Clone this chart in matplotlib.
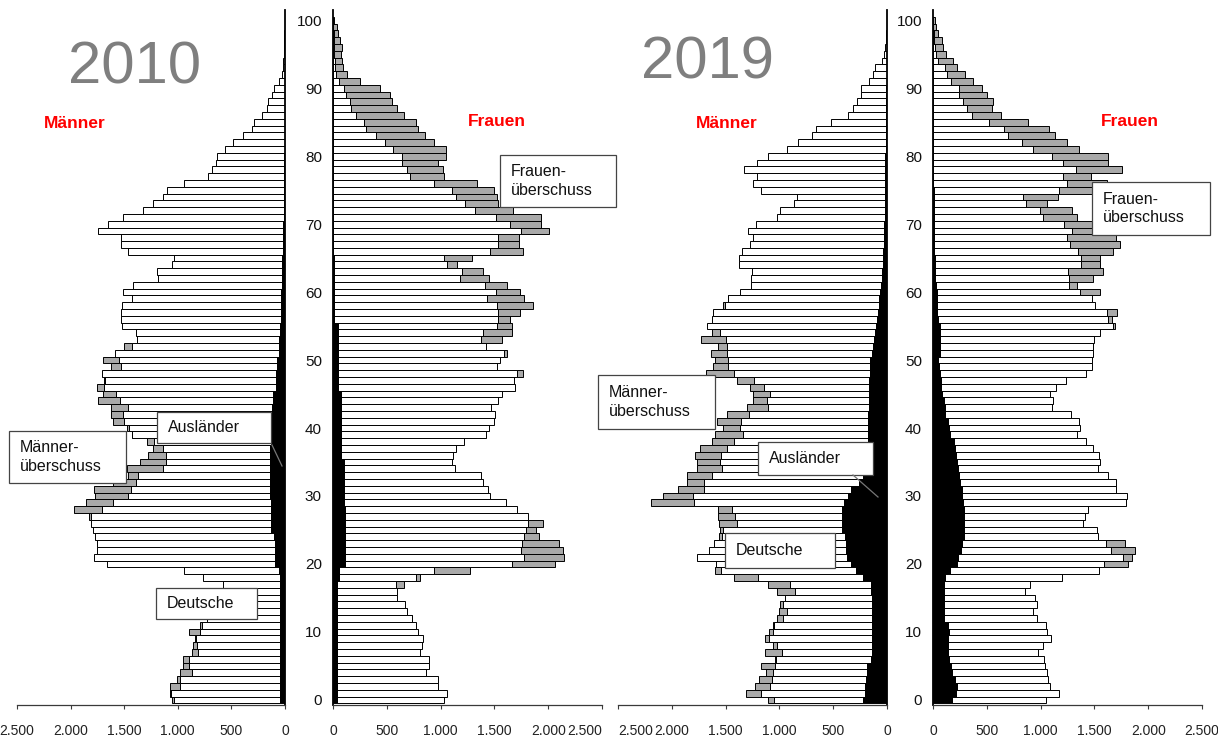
import numpy as np
import matplotlib
matplotlib.use("Agg")
import matplotlib.pyplot as plt
from matplotlib.patches import Rectangle
from matplotlib.lines import Line2D

plt.rcParams['font.family'] = ['Liberation Sans', 'DejaVu Sans']

ages = np.arange(0, 101)

# population by single year of age (index = age 0..100)
men_2010 = [1057, 1073, 1073, 1011, 980, 955, 949, 871, 861, 840,
            893, 793, 731, 720, 700, 680, 650, 582, 768, 942,
            1664, 1779, 1751, 1757, 1773, 1794, 1813, 1826, 1969, 1857,
            1773, 1779, 1608, 1462, 1477, 1353, 1275, 1228, 1290, 1430,
            1477, 1602, 1623, 1623, 1741, 1701, 1757, 1688, 1710, 1620,
            1700, 1586, 1502, 1378, 1390, 1524, 1533, 1533, 1524, 1430,
            1515, 1415, 1182, 1197, 1057, 1033, 1462, 1533, 1533, 1748,
            1648, 1515, 1322, 1228, 1141, 1104, 942, 715, 684, 644,
            638, 556, 482, 395, 305, 286, 218, 170, 155, 124,
            100, 53, 30, 20, 15, 12, 10, 8, 5, 3, 2]
women_2010 = [1032, 1063, 980, 980, 865, 896, 896, 809, 825, 834,
              794, 772, 732, 685, 670, 592, 592, 663, 809, 1274,
              2065, 2151, 2136, 2105, 1919, 1885, 1950, 1810, 1708, 1609,
              1460, 1438, 1392, 1373, 1135, 1110, 1113, 1141, 1218, 1423,
              1454, 1500, 1507, 1466, 1538, 1575, 1693, 1683, 1770, 1528,
              1553, 1615, 1423, 1575, 1662, 1662, 1646, 1739, 1863, 1779,
              1739, 1621, 1454, 1392, 1150, 1290, 1764, 1733, 1724, 2003,
              1931, 1931, 1677, 1538, 1522, 1497, 1336, 1032, 1026, 980,
              1051, 1051, 939, 856, 794, 772, 663, 592, 546, 530,
              437, 251, 127, 96, 80, 71, 80, 65, 50, 34, 10]
men_foreign_2010 = [45, 45, 45, 45, 45, 45, 45, 45, 45, 45,
                    45, 45, 45, 45, 45, 45, 45, 48, 50, 60,
                    90, 90, 95, 95, 100, 130, 130, 130, 135, 135,
                    140, 140, 140, 140, 140, 140, 140, 140, 135, 135,
                    130, 120, 120, 120, 115, 110, 80, 80, 80, 78,
                    75, 55, 55, 55, 50, 50, 40, 40, 40, 40,
                    40, 30, 30, 30, 30, 30, 20, 20, 20, 20,
                    20, 10, 10, 10, 10, 10, 10, 10, 10, 10,
                    10, 3, 3, 3, 3, 3, 3, 3, 3, 3,
                    3, 3, 3, 3, 3, 3, 3, 3, 3, 3, 3]
women_foreign_2010 = [50, 50, 50, 50, 50, 50, 50, 50, 50, 50,
                      50, 50, 50, 50, 50, 50, 50, 50, 65, 65,
                      120, 120, 120, 120, 120, 120, 120, 120, 120, 110,
                      110, 110, 110, 110, 110, 110, 80, 80, 80, 80,
                      80, 80, 80, 80, 80, 80, 60, 60, 60, 60,
                      60, 60, 60, 60, 60, 60, 20, 20, 20, 20,
                      20, 20, 20, 20, 20, 20, 10, 10, 10, 10,
                      10, 10, 10, 10, 10, 10, 10, 10, 10, 10,
                      5, 5, 5, 5, 5, 5, 5, 5, 5, 5,
                      5, 5, 5, 5, 5, 5, 5, 5, 5, 5, 5]

men_2019 = [1104, 1311, 1228, 1187, 1125, 1175, 1042, 1135, 1063, 1135,
            1094, 1057, 1026, 1001, 995, 949, 1020, 1104, 1423, 1600,
            1590, 1770, 1650, 1609, 1560, 1553, 1560, 1569, 1569, 2189,
            2086, 1941, 1863, 1857, 1770, 1770, 1786, 1739, 1631, 1600,
            1528, 1578, 1491, 1305, 1249, 1249, 1274, 1398, 1683, 1620,
            1600, 1637, 1569, 1724, 1631, 1677, 1631, 1621, 1528, 1482,
            1367, 1268, 1268, 1259, 1373, 1373, 1352, 1274, 1249, 1290,
            1218, 1020, 995, 865, 840, 1175, 1249, 1206, 1330, 1206,
            1104, 933, 825, 700, 660, 524, 360, 319, 282, 245,
            245, 164, 133, 112, 50, 28, 15, 10, 5, 3, 2]
women_2019 = [1048, 1175, 1088, 1073, 1057, 1042, 1032, 980, 1020, 1094,
              1063, 1051, 970, 933, 964, 949, 856, 902, 1197, 1547,
              1810, 1854, 1879, 1786, 1538, 1528, 1398, 1414, 1445, 1795,
              1807, 1702, 1702, 1631, 1538, 1553, 1547, 1491, 1423, 1336,
              1367, 1361, 1280, 1104, 1113, 1088, 1144, 1237, 1423, 1476,
              1479, 1485, 1491, 1497, 1553, 1693, 1662, 1708, 1507, 1476,
              1553, 1336, 1491, 1584, 1553, 1553, 1671, 1739, 1702, 1650,
              1600, 1342, 1290, 1057, 1166, 1600, 1620, 1466, 1755, 1631,
              1631, 1361, 1243, 1135, 1082, 887, 629, 546, 555, 499,
              453, 369, 298, 220, 189, 121, 96, 81, 50, 28, 15]
men_foreign_2019 = [220, 200, 200, 195, 190, 190, 145, 140, 140, 140,
                    140, 140, 140, 140, 140, 140, 145, 150, 220, 290,
                    330, 370, 380, 385, 390, 420, 420, 420, 420, 400,
                    360, 330, 260, 220, 200, 190, 180, 175, 175, 175,
                    175, 175, 172, 170, 170, 168, 165, 165, 162, 160,
                    158, 140, 130, 120, 112, 105, 90, 85, 75, 70,
                    65, 55, 50, 45, 40, 35, 35, 32, 30, 30,
                    25, 20, 20, 19, 18, 18, 16, 15, 15, 15,
                    15, 10, 10, 10, 10, 10, 8, 8, 6, 5,
                    5, 3, 3, 3, 2, 2, 2, 1, 1, 1, 1]
women_foreign_2019 = [190, 220, 230, 210, 190, 180, 155, 150, 150, 150,
                      155, 150, 110, 110, 110, 110, 110, 110, 120, 165,
                      235, 240, 265, 280, 300, 300, 300, 300, 295, 285,
                      280, 275, 260, 250, 240, 230, 220, 210, 200, 170,
                      160, 150, 125, 120, 110, 95, 85, 80, 70, 65,
                      60, 75, 75, 70, 70, 75, 55, 50, 50, 50,
                      50, 35, 30, 30, 30, 30, 20, 20, 20, 20,
                      20, 20, 20, 20, 20, 20, 10, 10, 10, 10,
                      10, 10, 10, 10, 10, 10, 8, 8, 8, 6,
                      5, 3, 3, 3, 3, 2, 2, 2, 1, 1, 1]

x_ticks = [0, 500, 1000, 1500, 2000, 2500]
x_tick_labels = ['0', '500', '1.000', '1.500', '2.000', '2.500']
age_ticks = list(range(0, 101, 10))

W, H = 1218, 740
GREY = '#a9a9a9'
AXIS = '#3a3a3a'


def fx(x):
    return x / W


def fy(y):
    return 1 - y / H


def panel(fig, x0, x1, own, other, foreign, men_side):
    ax = fig.add_axes([fx(x0), fy(705), (x1 - x0) / W, 695 / H])
    own = np.asarray(own, float)
    other = np.asarray(other, float)
    base = np.minimum(own, other)
    extra = own - base
    ax.barh(ages, base, height=1.0, color='white', edgecolor='black', linewidth=0.7)
    m = extra > 0
    ax.barh(ages[m], extra[m], left=base[m], height=1.0, color=GREY,
            edgecolor='black', linewidth=0.7)
    ax.barh(ages, foreign, height=1.0, color='black', linewidth=0)
    ax.set_ylim(-0.75, 101.5)
    if men_side:
        ax.set_xlim(2500, 0)
    else:
        ax.set_xlim(0, 2500)
    for s in ['top', 'left', 'right', 'bottom']:
        ax.spines[s].set_visible(False)
    zero_side = 'right' if men_side else 'left'
    ax.spines[zero_side].set_visible(True)
    ax.spines[zero_side].set_linewidth(1.3)
    ax.spines[zero_side].set_color('black')
    ax.spines['bottom'].set_visible(True)
    ax.spines['bottom'].set_color(AXIS)
    ax.spines['bottom'].set_linewidth(0.9)
    ax.set_xticks(x_ticks)
    ax.set_xticklabels(x_tick_labels)
    ax.tick_params(axis='x', direction='out', length=3, color=AXIS, pad=11,
                   labelsize=10, labelcolor='#222222')
    if men_side:
        ax.set_yticks([])
    else:
        ax.set_yticks(age_ticks)
        ax.tick_params(axis='y', length=0, pad=8, labelsize=11, labelcolor='#111111')
    ax.patch.set_alpha(0)
    return ax


def label_box(fig, x0, y0, x1, y1, text):
    fig.add_artist(Rectangle((fx(x0), fy(y1)), (x1 - x0) / W, (y1 - y0) / H,
                             transform=fig.transFigure, facecolor='white',
                             edgecolor='#444444', linewidth=0.9, zorder=5))
    fig.text(fx(x0 + 11), fy((y0 + y1) / 2), text, ha='left', va='center',
             fontsize=11.5, linespacing=1.3, color='#111111', zorder=6)


def pointer(fig, xa, ya, xb, yb):
    fig.add_artist(Line2D([fx(xa), fx(xb)], [fy(ya), fy(yb)], transform=fig.transFigure,
                          color='#777777', linewidth=0.9, zorder=6))


fig = plt.figure(figsize=(W / 100, H / 100), dpi=100)

panel(fig, 17, 285, men_2010, women_2010, men_foreign_2010, True)
ax_w10 = panel(fig, 333, 602, women_2010, men_2010, women_foreign_2010, False)
ax_m19 = panel(fig, 618, 887, men_2019, women_2019, men_foreign_2019, True)
panel(fig, 933, 1202, women_2019, men_2019, women_foreign_2019, False)

# the two "2.500" labels in the middle sit very close together
ax_w10.get_xticklabels()[-1].set_ha('right')
ax_m19.get_xticklabels()[-1].set_ha('left')

fig.text(fx(135), fy(68), '2010', ha='center', va='center', fontsize=43, color='#7f7f7f')
fig.text(fx(707), fy(63), '2019', ha='center', va='center', fontsize=43, color='#7f7f7f')
for (x, y, t) in [(75, 124, 'Männer'), (497, 122, 'Frauen'),
                  (727, 123, 'Männer'), (1130, 121, 'Frauen')]:
    fig.text(fx(x), fy(y), t, ha='center', va='center', fontsize=12.5,
             fontweight='bold', color='#ff0000')

label_box(fig, 500, 155, 616, 207, 'Frauen-\nüberschuss')
label_box(fig, 157, 412, 271, 443, 'Ausländer')
pointer(fig, 272, 445, 282, 466)
label_box(fig, 9, 431, 126, 483, 'Männer-\nüberschuss')
label_box(fig, 156, 588, 257, 619, 'Deutsche')

label_box(fig, 598, 375, 715, 429, 'Männer-\nüberschuss')
label_box(fig, 758, 442, 873, 475, 'Ausländer')
pointer(fig, 853, 475, 878, 497)
label_box(fig, 725, 533, 835, 568, 'Deutsche')
label_box(fig, 1092, 182, 1210, 235, 'Frauen-\nüberschuss')

fig.savefig('out.png', dpi=100)
